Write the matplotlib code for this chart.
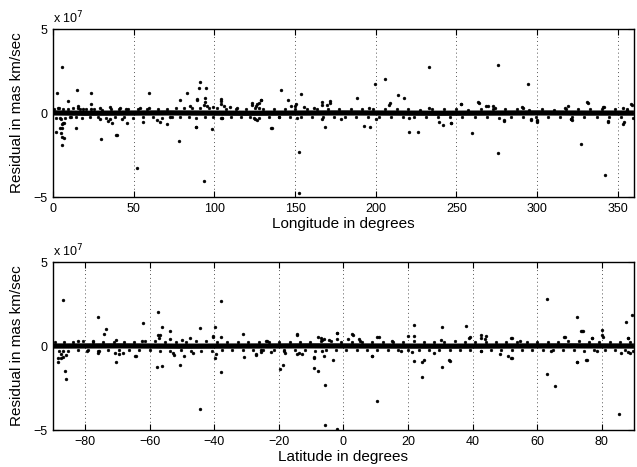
import numpy as np
import matplotlib
matplotlib.use("Agg")
import matplotlib.pyplot as plt

plt.rcParams['font.family'] = ['Liberation Sans', 'DejaVu Sans']

# Residuals are in units of 1e7 mas km/sec
lon_ticks = [0, 50, 100, 150, 200, 250, 300, 350]
lat_ticks = [-80, -60, -40, -20, 0, 20, 40, 60, 80]
res_ticks = [-5, 0, 5]

# ---------------- Top panel: residual vs longitude ----------------
# core of the dense band (longitude, residual)
core_lon = [0, 20, 45, 70, 95, 120, 150, 180, 210, 240, 270, 300, 330, 360]
core_lon_res = [0.01, -0.01, 0.0, 0.01, 0.0, -0.01, 0.0, 0.01, 0.0, -0.01, 0.0, 0.01, 0.0, 0.0]

# scattered points (longitude, residual)
lon_points = [
    (5.6, 2.76), (2.7, 1.17), (15, 1.37), (23.5, 1.21), (9.1, 0.73), (15.8, 0.3),
    (1.9, -1.11), (4.2, -0.91), (4.8, -1.21), (5.4, -1.41), (6.9, -1.47), (5.3, -1.9),
    (5.7, -0.65), (6.9, -0.6), (14.2, -0.87), (29.7, -1.55), (39.2, -1.33), (39.8, -1.29),
    (45.6, -0.58), (36.4, -0.6), (51.8, -3.25), (59.7, 1.21), (70.4, -0.64), (77.9, -1.65),
    (79, 0.77), (83.2, 1.21), (91.1, 1.86), (90.7, 1.47), (89.5, 0.8), (94.8, 1.51),
    (88.6, -0.81), (93.6, -4.03), (98.5, -0.96), (93.5, 0.48), (104.3, 0.81), (104.1, 0.55),
    (103.9, -0.32), (106, 0.4), (123.1, 0.5), (125.6, 0.4), (128.9, 0.77), (127.7, 0.6),
    (125.2, -0.35), (141, 1.35), (135.5, -0.87), (145.8, 0.77), (153.4, 1.11), (152.6, -2.3),
    (152.2, -4.74), (147.6, 0.45), (150.1, 0.4), (168.7, -0.85), (166.7, 0.5), (170, 0.5),
    (171.6, 0.6), (188.1, 0.87), (192.9, -0.77), (196.4, -0.83), (199.7, 1.73), (205.7, 2.04),
    (208.4, 0.5), (213.8, 1.05), (217.3, 0.9), (220.4, -1.11), (226.1, -1.13), (232.8, 2.72),
    (241.6, -0.71), (246.6, -0.6), (253, 0.52), (259.8, -1.21), (263.7, 0.6), (268.5, 0.45),
    (272.4, 0.4), (275.9, 2.84), (275.5, -2.38), (279.4, -0.5), (290.9, 0.35), (294.5, 1.73),
    (296.2, -0.4), (299.7, -0.5), (300, -0.55), (319.3, 0.42), (320.9, -0.37), (321.7, -0.43),
    (326.9, -1.83), (331.5, 0.62), (341.3, 0.38), (342, -3.69), (343.9, -0.55), (353.2, -0.65),
    (353.8, -0.55), (358.9, 0.5), (356, 0.2),
    (3.3, 0.32), (15.7, 0.42), (18.8, 0.27), (23.7, 0.52), (23.5, 0.24), (29.1, 0.3),
    (35.3, 0.35), (41.5, 0.3), (45, 0.27), (53.9, 0.3), (59.7, 0.3), (84.9, 0.45),
    (89, 0.82), (94.4, 0.9), (94.2, 0.64), (95.7, 0.42), (99.3, 0.38), (103.9, 0.7),
    (109.7, 0.35), (113.8, 0.3), (4.3, -0.32), (6.4, -0.61), (5.4, -0.9), (10.3, -0.25),
    (29.1, -0.37), (35.3, -0.35), (34.3, -0.5), (42.6, -0.35), (56, -0.53), (64.2, -0.39),
    (66.3, -0.53), (72.5, -0.25), (88.4, -0.85), (104.5, -0.3), (123.5, 0.58), (126.2, 0.52),
    (129.1, 0.77), (127.6, 0.32), (150.4, 0.52), (155.5, 0.38), (161.7, 0.3), (166.9, 0.64),
    (171.7, 0.72), (195.8, 0.3), (208.6, 0.58), (233, 0.3), (124.5, -0.3), (126.2, -0.4),
    (134.9, -0.9), (140, -0.22), (151.5, -0.3), (166.9, -0.33), (178.2, -0.33), (199.9, -0.33),
    (220.6, -0.31), (252.6, 0.52), (263.3, 0.64), (269.5, 0.44), (273.6, 0.32), (291.2, 0.32),
    (317.4, 0.32), (331, 0.64), (340.7, 0.38), (353.2, 0.32), (358.3, 0.56), (246.8, -0.6),
    (279.4, -0.4), (296.4, -0.33), (300.1, -0.4), (321.1, -0.36), (343.9, -0.46), (239, -0.55),
]

# fuzz along the edges of the dense band (longitude, residual)
lon_band = [
    (0.8, 0.26), (2.1, -0.3), (3.6, 0.28), (4.9, -0.33), (6.2, 0.22), (7.7, -0.28), (9.3, 0.25),
    (11.0, -0.24), (12.4, 0.28), (14.1, -0.26), (16.5, 0.22), (18.2, -0.28), (20.7, 0.24),
    (22.9, -0.22), (25.3, 0.26), (27.8, -0.25), (30.6, 0.21), (33.1, -0.28), (36.0, 0.25),
    (38.4, -0.22), (41.2, 0.27), (44.0, -0.25), (46.7, 0.22), (49.5, -0.27), (52.8, 0.24),
    (55.6, -0.24), (58.3, 0.26), (61.7, -0.22), (64.9, 0.24), (67.6, -0.28), (70.8, 0.22),
    (73.5, -0.25), (76.1, 0.28), (78.8, -0.26), (81.4, 0.3), (84.0, -0.24), (86.3, 0.28),
    (88.7, -0.28), (91.2, 0.32), (93.9, -0.26), (96.4, 0.28), (99.0, -0.24), (101.8, 0.28),
    (104.7, -0.27), (107.5, 0.25), (110.3, -0.22), (113.6, 0.26), (116.2, -0.24), (119.4, 0.22),
    (122.1, -0.26), (124.9, 0.28), (127.5, -0.28), (130.2, 0.25), (133.6, -0.22), (136.9, 0.22),
    (140.1, -0.25), (143.5, 0.26), (146.8, -0.22), (150.2, 0.25), (153.7, -0.26), (157.1, 0.22),
    (160.4, -0.24), (163.8, 0.25), (167.2, -0.26), (170.6, 0.24), (174.1, -0.22), (177.5, 0.25),
    (181.0, -0.26), (184.6, 0.22), (188.0, -0.25), (191.5, 0.24), (195.1, -0.26), (198.6, 0.26),
    (202.2, -0.22), (205.9, 0.24), (209.3, -0.25), (213.0, 0.22), (216.7, -0.24), (220.2, 0.25),
    (224.0, -0.22), (227.7, 0.21), (231.3, -0.24), (235.0, 0.22), (238.8, -0.21), (242.5, 0.24),
    (246.1, -0.22), (249.9, 0.22), (253.6, -0.25), (257.4, 0.21), (261.2, -0.22), (265.0, 0.25),
    (268.7, -0.24), (272.5, 0.26), (276.3, -0.28), (280.0, 0.22), (283.9, -0.21), (287.6, 0.25),
    (291.4, -0.22), (295.2, 0.21), (299.0, -0.25), (302.8, 0.22), (306.5, -0.21), (310.3, 0.21),
    (314.1, -0.22), (317.9, 0.26), (321.6, -0.24), (325.4, 0.22), (329.2, -0.21), (333.0, 0.25),
    (336.8, -0.22), (340.5, 0.26), (344.3, -0.25), (348.1, 0.22), (351.9, -0.26), (355.6, 0.25),
    (359.2, -0.28),
]

# ---------------- Bottom panel: residual vs latitude ----------------
core_lat = [-90, -70, -50, -30, -10, 10, 30, 50, 70, 90]
core_lat_res = [0.0, 0.01, -0.01, 0.0, 0.01, 0.0, -0.01, 0.0, 0.01, 0.0]

lat_points = [
    (-86.8, 2.72), (-88.4, -0.97), (-87.5, -0.69), (-86.8, -0.65), (-86, -0.55), (-86.2, -1.47),
    (-86, -1.96), (-76, 1.71), (-73.6, 1.01), (-74.3, 0.71), (-76.1, -0.39), (-75.9, -0.32),
    (-70.5, 0.36), (-70.7, -0.4), (-70.6, -0.93), (-69.5, -0.49), (-64.6, -0.62), (-62, 1.35),
    (-57.6, 2.0), (-57.4, 0.65), (-57.2, 0.5), (-57.7, -1.23), (-56.1, -1.2), (-56.1, 1.15),
    (-53.6, 0.87), (-53.6, 0.4), (-52.6, -0.53), (-50.6, -1.13), (-49.3, -0.6), (-44.3, -3.73),
    (-44.3, 1.07), (-39.8, 1.11), (-39.8, -0.69), (-40.5, 0.51), (-38.1, 2.68), (-38.1, 0.55),
    (-38.1, -1.57), (-31, 0.73), (-30.7, -0.67), (-27.2, -0.55), (-25.4, -0.36), (-23.9, 0.3),
    (-22.3, -0.33), (-19.6, -1.39), (-18.6, -1.15), (-18.2, -0.4), (-14.5, 0.67), (-14.5, -0.45),
    (-12.9, -0.45), (-9.2, -0.71), (-9.2, -1.31), (-7.9, -1.51), (-7.9, 0.56), (-7, 0.45),
    (-5.8, -2.3), (-5.8, -4.72), (-6.1, -0.6), (-5.9, 0.42), (-4.6, 0.38), (-3.3, -0.85),
    (-2, 0.75), (-2.1, 0.4), (-2, -4.92), (1.3, 0.4), (2.9, 0.66), (4.9, 0.4), (8.7, -0.58),
    (10.5, 0.55), (11.1, 0.55), (10.4, -3.3), (15, 0.3), (20.1, 0.6), (21.8, 1.27), (21.7, 0.6),
    (21.3, -0.35), (21.9, -0.89), (24.2, -0.93), (24.2, -1.85), (27.9, -0.4), (30.4, 1.13),
    (30.4, -1.23), (32.7, -0.84), (37.9, 1.17), (38.8, 0.5), (42.6, 0.45), (44, 0.4),
    (48.4, -0.48), (51.1, -0.6), (52.1, -0.73), (52, 0.45), (54.8, 0.3), (63.1, 2.82),
    (63.1, -1.69), (65.4, -2.4), (64.4, -0.3), (68.3, 0.52), (72.4, 1.71), (72.4, -0.97),
    (73.7, 0.87), (74.3, 0.87), (75.3, -0.85), (77, 0.45), (80.1, 0.97), (80.4, 0.55),
    (85.4, -4.03), (87.6, 1.45), (88.3, 0.45), (89.5, 1.83), (88.2, -0.35), (88.9, -0.4),
    (-82.2, 0.28), (-77.5, 0.32), (-62.5, 0.28), (-56.9, 0.66), (-50.1, 0.38), (-47.6, 0.48),
    (-40.3, 0.57), (-88.4, -0.71), (-87.4, -0.5), (-86.9, -0.3), (-79.6, -0.3), (-68.2, -0.4),
    (-64.4, -0.6), (-52.9, -0.4), (-46.5, -0.4), (-39.5, -0.5), (-23.6, 0.28), (-14.3, 0.71),
    (-6.6, 0.38), (-1.9, 0.77), (2.7, 0.71), (5.1, 0.32), (-27.2, -0.45), (-25.4, -0.26),
    (-18.4, -0.3), (-13.8, -0.4), (-9.1, -0.65), (-6.8, -0.3), (8.9, -0.6), (17.7, -0.3),
    (25, -0.85), (30.3, 0.33), (39.1, 0.53), (42.7, 0.65), (44.2, 0.6), (52.2, 0.46),
    (68.5, 0.53), (73.9, 0.87), (77, 0.46), (80.1, 0.67), (88.3, 0.48), (32.9, -0.87),
    (42.7, -0.3), (51.8, -0.7), (72.4, -0.95), (75.5, -0.85), (78.6, -0.3), (86, -0.4),
]

lat_band = [
    (-89.4, 0.26), (-88.1, -0.28), (-86.7, 0.24), (-85.2, -0.3), (-83.9, 0.22), (-82.3, -0.25),
    (-80.8, 0.28), (-79.1, -0.22), (-77.6, 0.26), (-76.0, -0.28), (-74.4, 0.24), (-72.9, -0.22),
    (-71.2, 0.26), (-69.7, -0.25), (-68.1, 0.22), (-66.4, -0.26), (-64.9, 0.24), (-63.3, -0.22),
    (-61.6, 0.28), (-60.0, -0.24), (-58.5, 0.3), (-56.8, -0.28), (-55.2, 0.26), (-53.7, -0.27),
    (-52.0, 0.25), (-50.4, -0.26), (-48.9, 0.24), (-47.2, -0.28), (-45.6, 0.28), (-44.0, -0.3),
    (-42.5, 0.3), (-40.8, -0.28), (-39.2, 0.26), (-37.6, -0.25), (-36.0, 0.24), (-34.4, -0.22),
    (-32.8, 0.25), (-31.2, -0.24), (-29.6, 0.22), (-28.0, -0.25), (-26.3, 0.24), (-24.8, -0.22),
    (-23.1, 0.22), (-21.5, -0.26), (-19.9, 0.22), (-18.3, -0.24), (-16.7, 0.24), (-15.1, -0.22),
    (-13.5, 0.25), (-11.9, -0.24), (-10.3, 0.26), (-8.7, -0.28), (-7.1, 0.28), (-5.5, -0.26),
    (-3.9, 0.28), (-2.3, -0.25), (-0.7, 0.26), (0.9, -0.24), (2.5, 0.25), (4.1, -0.26),
    (5.7, 0.24), (7.3, -0.22), (8.9, 0.22), (10.5, -0.25), (12.1, 0.22), (13.7, -0.24),
    (15.3, 0.21), (16.9, -0.22), (18.5, 0.24), (20.1, -0.26), (21.7, 0.28), (23.3, -0.25),
    (24.9, 0.26), (26.5, -0.22), (28.1, 0.25), (29.7, -0.24), (31.3, 0.26), (32.9, -0.22),
    (34.5, 0.28), (36.1, -0.25), (37.7, 0.26), (39.3, -0.24), (40.9, 0.22), (42.5, -0.28),
    (44.1, 0.25), (45.7, -0.26), (47.3, 0.22), (48.9, -0.25), (50.5, 0.24), (52.1, -0.26),
    (53.7, 0.22), (55.3, -0.24), (56.9, 0.21), (58.5, -0.22), (60.1, 0.22), (61.7, -0.21),
    (63.3, 0.24), (64.9, -0.22), (66.5, 0.22), (68.1, -0.25), (69.7, 0.28), (71.3, -0.26),
    (72.9, 0.28), (74.5, -0.28), (76.1, 0.26), (77.7, -0.25), (79.3, 0.24), (80.9, -0.22),
    (82.5, 0.22), (84.1, -0.24), (85.7, 0.25), (87.3, -0.26), (88.9, 0.24), (89.7, -0.28),
]


def draw_panel(ax, core_x, core_y, pts, band, xlim, xticks, xlabel):
    ax.plot(core_x, core_y, color='black', lw=3.8, solid_capstyle='butt', zorder=2)
    px, py = np.array(pts).T
    bx, by = np.array(band).T
    ax.plot(bx, by, linestyle='none', marker='o', ms=2.0, mfc='black', mec='black',
            mew=0.3, zorder=3)
    ax.plot(px, py, linestyle='none', marker='o', ms=2.1, mfc='black', mec='black',
            mew=0.3, zorder=3)
    ax.set_xlim(*xlim)
    ax.set_ylim(-5, 5)
    ax.set_xticks(xticks)
    ax.set_yticks(res_ticks)
    ax.set_xticklabels([str(t).replace('-', '\u2212') for t in xticks])
    ax.set_yticklabels([str(t).replace('-', '\u2212') for t in res_ticks])
    ax.tick_params(direction='in', top=True, right=True, length=4, width=0.8,
                   labelsize=9, pad=4)
    ax.xaxis.grid(True, linestyle=(0, (1, 3)), color='#555555', lw=0.7)
    for s in ax.spines.values():
        s.set_linewidth(1.0)
    ax.set_xlabel(xlabel, fontsize=11, labelpad=2)
    ax.set_ylabel('Residual in mas km/sec', fontsize=11, labelpad=7)
    ax.text(0.0, 1.015, r'x 10$^{7}$', transform=ax.transAxes, fontsize=9,
            ha='left', va='bottom')


fig = plt.figure(figsize=(6.37, 4.67), dpi=100)
ax1 = fig.add_axes([0.0832, 0.578, 0.912, 0.3597])
ax2 = fig.add_axes([0.0832, 0.0792, 0.912, 0.3597])

draw_panel(ax1, core_lon, core_lon_res, lon_points, lon_band, (0, 360), lon_ticks,
           'Longitude in degrees')
draw_panel(ax2, core_lat, core_lat_res, lat_points, lat_band, (-90, 90), lat_ticks,
           'Latitude in degrees')

fig.savefig('out.png', dpi=100)
